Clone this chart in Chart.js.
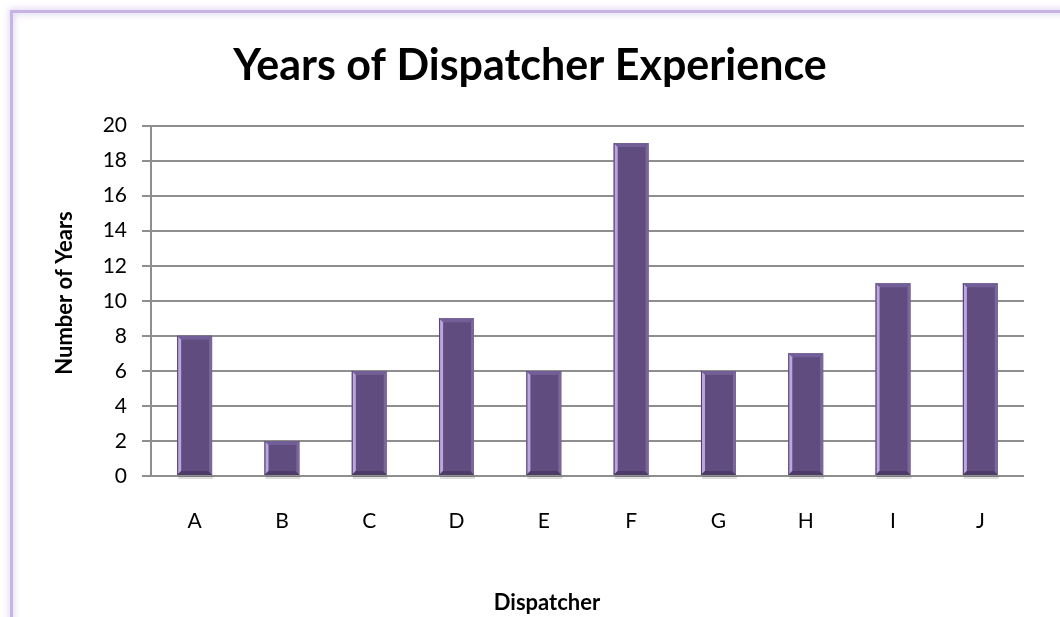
<!DOCTYPE html>
<html>
<head>
<meta charset="utf-8">
<title>Years of Dispatcher Experience</title>
<script src="https://cdn.jsdelivr.net/npm/chart.js@4.4.1/dist/chart.umd.min.js"></script>
<style>
  html, body { margin: 0; padding: 0; background: #fff; }
  #wrap { width: 1060px; height: 617px; }
</style>
</head>
<body>
<div id="wrap"><canvas id="chart" width="1060" height="617"></canvas></div>
<script>
// Dispatchers and their years on the job
const dispatchers = ['A', 'B', 'C', 'D', 'E', 'F', 'G', 'H', 'I', 'J'];
const years = [8, 2, 6, 9, 6, 19, 6, 7, 11, 11];
const yTicks = [0, 2, 4, 6, 8, 10, 12, 14, 16, 18, 20];

const FONT = 'Lato, "Open Sans", sans-serif';
const BAR = '#614c80';

// lavender outline along the top and left of the panel
const framePlugin = {
    id: 'frame',
    beforeDraw(chart) {
        const ctx = chart.ctx;
        ctx.save();
        ctx.fillStyle = '#fff';
        ctx.fillRect(0, 0, chart.width, chart.height);
        ctx.shadowColor = 'rgba(190, 170, 225, 0.9)';
        ctx.shadowBlur = 7;
        ctx.strokeStyle = '#c8b4e4';
        ctx.lineWidth = 3;
        ctx.strokeRect(11.5, 11.5, chart.width + 40, chart.height + 40);
        ctx.restore();
    }
};

// axis captions, placed relative to the panel rather than the plot
const captionPlugin = {
    id: 'captions',
    afterDraw(chart) {
        const ctx = chart.ctx;
        ctx.save();
        ctx.fillStyle = '#000';
        ctx.font = 'bold 22px ' + FONT;
        ctx.textAlign = 'center';
        ctx.textBaseline = 'middle';
        ctx.fillText('Dispatcher', 547, 603);
        ctx.translate(65, 293);
        ctx.rotate(-Math.PI / 2);
        ctx.fillText('Number of Years', 0, 0);
        ctx.restore();
    }
};

// bevelled edges on each bar, taken from the bar elements
const bevelPlugin = {
    id: 'bevel',
    afterDatasetsDraw(chart) {
        const ctx = chart.ctx;
        const meta = chart.getDatasetMeta(0);
        const b = 4;
        ctx.save();
        meta.data.forEach(bar => {
            const L = bar.x - bar.width / 2;
            const R = bar.x + bar.width / 2;
            const T = bar.y;
            const B = bar.base;
            const poly = (pts, color) => {
                ctx.beginPath();
                ctx.moveTo(pts[0][0], pts[0][1]);
                pts.slice(1).forEach(p => ctx.lineTo(p[0], p[1]));
                ctx.closePath();
                ctx.fillStyle = color;
                ctx.fill();
            };
            poly([[L, T], [R, T], [R - b, T + b], [L + b, T + b]], '#735f98');
            poly([[L, T], [L + b, T + b], [L + b, B - b], [L, B]], '#bba6df');
            poly([[R, T], [R, B], [R - 3, B - 3], [R - 3, T + 3]], '#7a679c');
            poly([[L, B], [R, B], [R - b, B - b], [L + b, B - b]], '#4d3c68');
            ctx.fillStyle = '#4f3e6c';
            ctx.fillRect(L, T, 1, B - T);
            // soft shadow under the bar foot
            ctx.fillStyle = 'rgba(0, 0, 0, 0.12)';
            ctx.fillRect(L + 1, B + 1, R - L, 3);
        });
        ctx.restore();
    }
};

new Chart(document.getElementById('chart'), {
    type: 'bar',
    data: {
        labels: dispatchers,
        datasets: [{
            data: years,
            backgroundColor: BAR,
            borderWidth: 0,
            barPercentage: 0.4,
            categoryPercentage: 1.0
        }]
    },
    options: {
        responsive: false,
        animation: false,
        layout: { padding: { top: 10, left: 36, right: 36, bottom: 0 } },
        plugins: {
            legend: { display: false },
            tooltip: { enabled: false },
            title: {
                display: true,
                text: 'Years of Dispatcher Experience',
                color: '#000',
                font: { family: FONT, size: 43, weight: 'bold' },
                padding: { top: 30, bottom: 34 }
            }
        },
        scales: {
            x: {
                afterFit: s => { s.height = 141; },
                grid: { display: false },
                border: { display: false },
                ticks: { color: '#000', font: { family: FONT, size: 21 }, padding: 25 }
            },
            y: {
                min: 0,
                max: 20,
                afterFit: s => { s.width = 115; },
                afterBuildTicks: s => { s.ticks = yTicks.map(v => ({ value: v })); },
                grid: { color: '#8e8e8e', lineWidth: 2, tickLength: 9 },
                border: { display: true, color: '#8e8e8e', width: 2 },
                ticks: { color: '#000', font: { family: FONT, size: 21 }, padding: 15 }
            }
        }
    },
    plugins: [framePlugin, bevelPlugin, captionPlugin]
});
</script>
</body>
</html>
